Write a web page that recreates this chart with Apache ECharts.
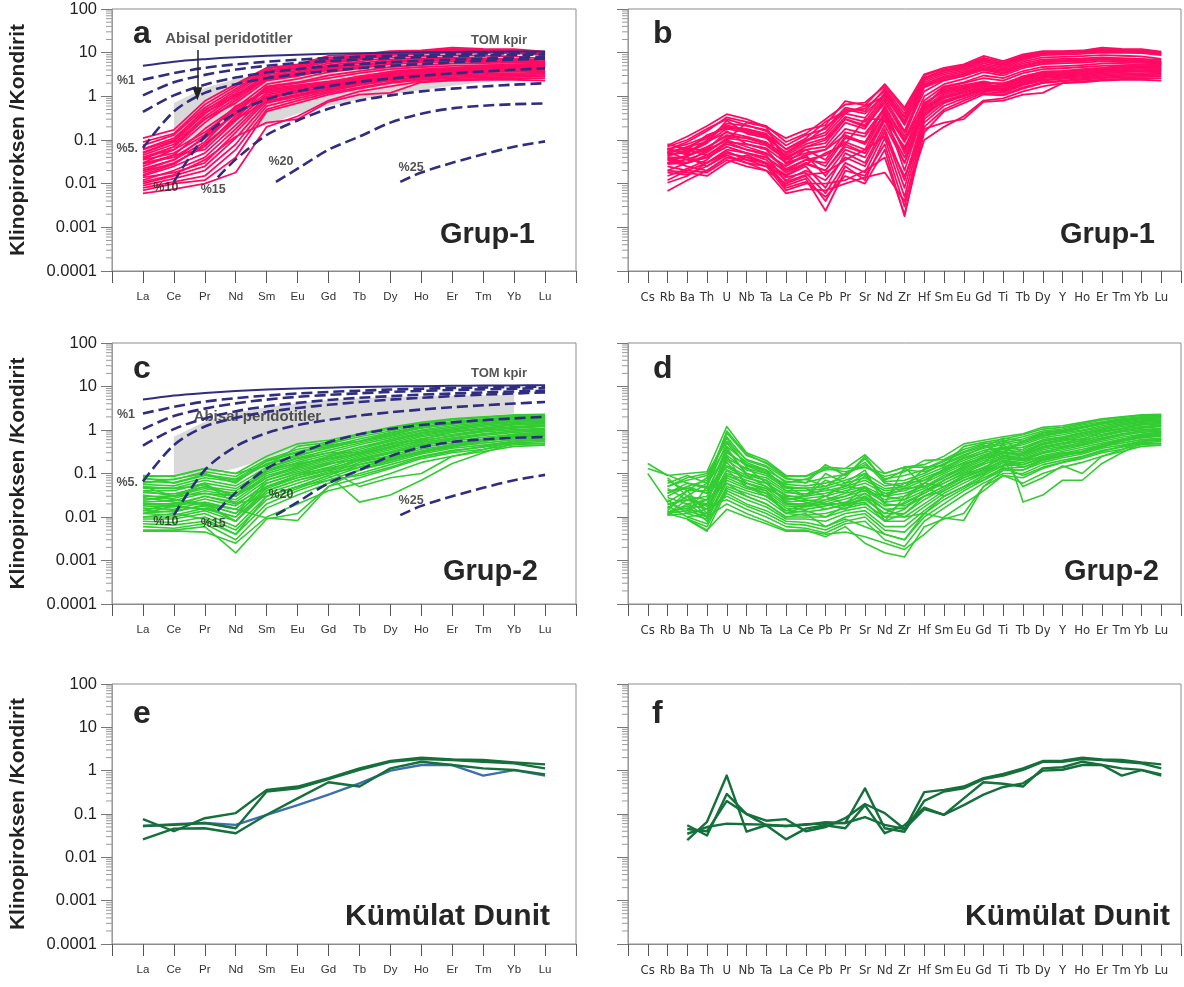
<!DOCTYPE html>
<html>
<head>
<meta charset="utf-8">
<script src="https://cdn.jsdelivr.net/npm/echarts@6/dist/echarts.min.js"></script>
<style>
  html, body { margin: 0; padding: 0; background: #ffffff; }
  #chart { width: 1184px; height: 987px; }
</style>
</head>
<body>
<div id="chart"></div>
<script>
// ---- element orders ----
const reeLabels = ['La', 'Ce', 'Pr', 'Nd', 'Sm', 'Eu', 'Gd', 'Tb', 'Dy', 'Ho', 'Er', 'Tm', 'Yb', 'Lu'];
const spiderLabels = ['Cs', 'Rb', 'Ba', 'Th', 'U', 'Nb', 'Ta', 'La', 'Ce', 'Pb', 'Pr', 'Sr', 'Nd', 'Zr', 'Hf',
  'Sm', 'Eu', 'Gd', 'Ti', 'Tb', 'Dy', 'Y', 'Ho', 'Er', 'Tm', 'Yb', 'Lu'];
const yTickLabels = ['0.0001', '0.001', '0.01', '0.1', '1', '10', '100'];

// ---- clinopyroxene / chondrite, one row per sample, in spiderLabels order ----
const grup1Samples = [
  [null, 0.075, 0.12, 0.21, 0.39, 0.30, 0.20, 0.11, 0.17, 0.22, 0.78, 0.62, 1.9, 0.55, 3.2, 4.5, 5.4, 8.4, 6.4, 9.1, 10.9, 10.8, 11.2, 13.0, 12.2, 12.0, 10.5],
  [null, 0.060, 0.09, 0.16, 0.33, 0.26, 0.21, 0.09, 0.14, 0.30, 0.65, 0.72, 1.7, 0.48, 3.0, 4.3, 5.1, 7.6, 6.0, 8.6, 10.4, 10.5, 10.8, 12.2, 11.6, 11.5, 10.2],
  [null, 0.052, 0.07, 0.11, 0.24, 0.21, 0.17, 0.075, 0.13, 0.18, 0.55, 0.45, 1.5, 0.40, 2.7, 4.0, 4.8, 7.0, 5.6, 8.1, 10.0, 10.1, 10.4, 11.6, 11.1, 11.0, 9.8],
  [null, 0.042, 0.06, 0.13, 0.19, 0.17, 0.13, 0.062, 0.11, 0.26, 0.46, 0.52, 1.35, 0.33, 2.5, 3.8, 4.5, 6.6, 5.2, 7.7, 9.6, 9.7, 10.0, 11.0, 10.6, 10.6, 9.5],
  [null, 0.048, 0.05, 0.085, 0.28, 0.14, 0.11, 0.052, 0.095, 0.13, 0.40, 0.32, 1.2, 0.28, 2.3, 3.5, 4.2, 6.2, 5.0, 7.3, 9.2, 9.4, 9.8, 10.5, 10.3, 10.2, 9.2],
  [null, 0.036, 0.042, 0.065, 0.13, 0.11, 0.085, 0.045, 0.08, 0.11, 0.34, 0.26, 1.05, 0.22, 2.1, 3.2, 3.9, 5.7, 4.6, 6.8, 8.8, 9.0, 9.4, 10.1, 9.9, 9.8, 8.8],
  [null, 0.030, 0.036, 0.052, 0.11, 0.095, 0.075, 0.036, 0.07, 0.085, 0.30, 0.22, 0.9, 0.16, 1.9, 2.9, 3.6, 5.2, 4.3, 6.2, 7.8, 8.0, 8.3, 8.8, 8.5, 8.2, 7.2],
  [null, 0.028, 0.03, 0.045, 0.09, 0.08, 0.065, 0.030, 0.06, 0.07, 0.25, 0.18, 0.8, 0.12, 1.7, 2.6, 3.3, 4.8, 4.0, 5.7, 7.0, 7.2, 7.4, 7.8, 7.4, 7.0, 6.2],
  [null, 0.050, 0.070, 0.090, 0.150, 0.120, 0.090, 0.040, 0.070, 0.100, 0.300, 0.200, 0.70, 0.150, 1.30, 2.30, 2.90, 4.20, 3.50, 5.00, 6.20, 6.40, 6.60, 7.00, 6.80, 6.60, 6.00],
  [null, 0.030, 0.045, 0.060, 0.100, 0.070, 0.050, 0.025, 0.045, 0.060, 0.180, 0.140, 0.55, 0.100, 1.00, 1.90, 2.50, 3.60, 3.00, 4.40, 5.50, 5.70, 5.90, 6.30, 6.20, 6.00, 5.60],
  [null, 0.070, 0.100, 0.180, 0.300, 0.220, 0.160, 0.060, 0.100, 0.150, 0.500, 0.400, 1.10, 0.350, 1.80, 2.70, 3.20, 4.50, 3.80, 5.20, 6.50, 6.70, 7.00, 7.60, 7.40, 7.20, 6.80],
  [null, 0.020, 0.030, 0.040, 0.070, 0.050, 0.040, 0.020, 0.035, 0.030, 0.120, 0.080, 0.40, 0.060, 0.80, 1.70, 2.10, 3.00, 2.60, 3.80, 4.70, 4.90, 5.20, 5.60, 5.80, 5.90, 5.80],
  [null, 0.012, 0.020, 0.030, 0.050, 0.040, 0.030, 0.016, 0.028, 0.020, 0.080, 0.050, 0.30, 0.030, 0.60, 1.60, 2.00, 2.60, 2.30, 3.40, 4.20, 4.40, 4.70, 5.00, 5.20, 5.30, 5.40],
  [null, 0.060, 0.050, 0.100, 0.220, 0.160, 0.120, 0.050, 0.090, 0.200, 0.420, 0.600, 1.00, 0.250, 1.60, 2.40, 3.00, 4.00, 3.30, 4.80, 6.00, 6.20, 6.40, 6.90, 6.60, 6.40, 5.90],
  [null, 0.080, 0.060, 0.045, 0.080, 0.060, 0.050, 0.022, 0.035, 0.045, 0.090, 0.060, 0.45, 0.090, 0.65, 1.40, 1.70, 2.10, 1.90, 2.90, 3.60, 3.70, 4.10, 4.40, 5.00, 5.30, 5.40],
  [null, 0.065, 0.045, 0.070, 0.120, 0.110, 0.080, 0.035, 0.050, 0.060, 0.130, 0.085, 0.60, 0.100, 0.70, 1.30, 1.60, 2.00, 2.00, 2.70, 3.40, 3.60, 3.90, 4.30, 4.80, 5.00, 5.10],
  [null, 0.055, 0.035, 0.030, 0.060, 0.050, 0.040, 0.018, 0.030, 0.020, 0.070, 0.050, 0.35, 0.060, 0.55, 1.20, 1.50, 1.90, 1.70, 2.60, 3.30, 3.50, 3.80, 4.20, 4.50, 4.70, 4.90],
  [null, 0.045, 0.055, 0.090, 0.180, 0.150, 0.120, 0.028, 0.045, 0.015, 0.060, 0.040, 0.28, 0.040, 0.50, 1.10, 1.40, 1.80, 1.60, 2.50, 3.10, 3.30, 3.60, 4.00, 4.30, 4.50, 4.60],
  [null, 0.040, 0.040, 0.025, 0.045, 0.030, 0.025, 0.015, 0.025, 0.008, 0.050, 0.030, 0.22, 0.030, 0.45, 1.00, 1.30, 1.70, 1.50, 2.30, 2.90, 3.10, 3.40, 3.80, 4.10, 4.30, 4.40],
  [null, 0.035, 0.025, 0.020, 0.040, 0.035, 0.030, 0.012, 0.020, 0.012, 0.040, 0.025, 0.18, 0.012, 0.40, 0.90, 1.20, 1.60, 1.40, 2.20, 2.80, 3.00, 3.20, 3.60, 3.90, 4.00, 4.10],
  [null, 0.030, 0.030, 0.040, 0.070, 0.050, 0.035, 0.014, 0.018, 0.006, 0.030, 0.018, 0.15, 0.008, 0.35, 0.80, 1.10, 1.50, 1.40, 2.00, 2.60, 2.80, 3.00, 3.30, 3.60, 3.70, 3.80],
  [null, 0.025, 0.020, 0.018, 0.035, 0.025, 0.020, 0.010, 0.015, 0.004, 0.025, 0.012, 0.11, 0.005, 0.30, 0.70, 1.00, 1.40, 1.30, 1.90, 2.40, 2.60, 2.80, 3.10, 3.30, 3.40, 3.50],
  [null, 0.020, 0.018, 0.015, 0.030, 0.045, 0.030, 0.009, 0.013, 0.0024, 0.020, 0.015, 0.08, 0.003, 0.25, 0.60, 0.90, 1.30, 1.20, 1.80, 2.30, 2.50, 2.70, 2.90, 3.10, 3.20, 3.30],
  [null, 0.018, 0.016, 0.025, 0.050, 0.040, 0.028, 0.008, 0.011, 0.005, 0.015, 0.010, 0.06, 0.0018, 0.20, 0.50, 0.80, 1.20, 1.10, 1.60, 2.10, 2.30, 2.50, 2.70, 2.90, 3.00, 3.10],
  [null, 0.0105, 0.015, 0.030, 0.055, 0.035, 0.025, 0.007, 0.010, 0.010, 0.012, 0.020, 0.04, 0.002, 0.15, 0.45, 0.70, 1.10, 1.05, 1.50, 2.00, 2.20, 2.40, 2.60, 2.70, 2.80, 2.90],
  [null, 0.0068, 0.012, 0.020, 0.040, 0.030, 0.020, 0.006, 0.0075, 0.007, 0.010, 0.014, 0.018, 0.004, 0.10, 0.20, 0.35, 0.80, 0.90, 1.30, 1.70, 2.00, 2.20, 2.40, 2.50, 2.60, 2.60],
  [null, 0.060, 0.080, 0.120, 0.200, 0.180, 0.140, 0.040, 0.060, 0.035, 0.150, 0.120, 0.50, 0.050, 0.60, 1.50, 1.80, 2.20, 1.80, 2.80, 3.70, 3.80, 4.20, 4.50, 4.90, 5.20, 5.30],
  [null, 0.050, 0.065, 0.055, 0.100, 0.250, 0.200, 0.030, 0.040, 0.025, 0.110, 0.090, 0.40, 0.020, 0.50, 0.95, 1.25, 1.65, 1.55, 2.40, 3.00, 3.20, 3.50, 3.90, 4.20, 4.40, 4.50],
  [null, 0.038, 0.030, 0.060, 0.160, 0.080, 0.060, 0.020, 0.028, 0.050, 0.080, 0.300, 0.30, 0.070, 0.40, 0.75, 1.05, 1.45, 1.35, 2.10, 2.70, 2.90, 3.10, 3.40, 3.70, 3.90, 4.00],
  [null, 0.015, 0.022, 0.035, 0.090, 0.060, 0.045, 0.011, 0.016, 0.018, 0.035, 0.060, 0.12, 0.015, 0.18, 0.25, 0.30, 0.75, 0.80, 1.10, 1.20, 2.00, 2.10, 2.30, 2.40, 2.40, 2.30]
];

const grup2Samples = [
  [0.17, 0.090, 0.10, 0.11, 1.20, 0.30, 0.20, 0.090, 0.085, 0.12, 0.13, 0.27, 0.10, 0.14, 0.16, 0.25, 0.48, 0.58, 0.70, 0.82, 1.15, 1.25, 1.50, 1.80, 2.00, 2.25, 2.30],
  [0.13, 0.093, 0.060, 0.050, 0.85, 0.26, 0.18, 0.085, 0.088, 0.14, 0.13, 0.14, 0.10, 0.14, 0.14, 0.15, 0.42, 0.52, 0.62, 0.78, 1.05, 1.15, 1.40, 1.70, 1.95, 2.15, 2.20],
  [null, 0.050, 0.080, 0.100, 0.55, 0.21, 0.15, 0.075, 0.072, 0.13, 0.11, 0.14, 0.085, 0.11, 0.20, 0.21, 0.36, 0.48, 0.55, 0.70, 0.95, 1.05, 1.30, 1.55, 1.80, 2.00, 2.10],
  [null, 0.030, 0.050, 0.070, 0.42, 0.18, 0.12, 0.066, 0.062, 0.08, 0.095, 0.16, 0.075, 0.09, 0.12, 0.19, 0.30, 0.42, 0.50, 0.62, 0.88, 0.98, 1.20, 1.45, 1.70, 1.92, 2.00],
  [0.10, 0.022, 0.040, 0.040, 0.32, 0.15, 0.10, 0.056, 0.052, 0.06, 0.080, 0.25, 0.065, 0.07, 0.10, 0.17, 0.27, 0.38, 0.46, 0.55, 0.80, 0.90, 1.10, 1.35, 1.60, 1.82, 1.90],
  [null, 0.016, 0.030, 0.060, 0.26, 0.12, 0.09, 0.046, 0.046, 0.05, 0.070, 0.10, 0.052, 0.06, 0.09, 0.14, 0.23, 0.34, 0.40, 0.50, 0.72, 0.85, 1.00, 1.25, 1.50, 1.72, 1.80],
  [null, 0.012, 0.025, 0.030, 0.20, 0.10, 0.08, 0.040, 0.040, 0.045, 0.060, 0.08, 0.045, 0.05, 0.08, 0.12, 0.20, 0.30, 0.38, 0.46, 0.66, 0.78, 0.95, 1.15, 1.40, 1.62, 1.70],
  [null, 0.011, 0.020, 0.025, 0.15, 0.09, 0.07, 0.036, 0.034, 0.04, 0.050, 0.07, 0.040, 0.045, 0.07, 0.11, 0.18, 0.27, 0.36, 0.40, 0.60, 0.70, 0.88, 1.05, 1.30, 1.50, 1.60],
  [null, 0.020, 0.015, 0.020, 0.12, 0.08, 0.06, 0.030, 0.030, 0.035, 0.045, 0.06, 0.035, 0.04, 0.06, 0.10, 0.16, 0.24, 0.33, 0.36, 0.55, 0.65, 0.80, 1.00, 1.20, 1.40, 1.50],
  [null, 0.025, 0.012, 0.015, 0.10, 0.07, 0.05, 0.026, 0.027, 0.030, 0.040, 0.05, 0.030, 0.035, 0.05, 0.09, 0.14, 0.22, 0.30, 0.33, 0.50, 0.60, 0.75, 0.95, 1.10, 1.30, 1.40],
  [null, 0.014, 0.040, 0.080, 0.65, 0.14, 0.06, 0.022, 0.024, 0.025, 0.035, 0.045, 0.025, 0.030, 0.045, 0.08, 0.13, 0.20, 0.28, 0.30, 0.46, 0.55, 0.70, 0.88, 1.05, 1.20, 1.30],
  [null, 0.018, 0.010, 0.012, 0.09, 0.06, 0.045, 0.020, 0.020, 0.022, 0.030, 0.04, 0.022, 0.025, 0.040, 0.07, 0.12, 0.18, 0.26, 0.28, 0.42, 0.50, 0.64, 0.80, 0.98, 1.10, 1.20],
  [null, 0.013, 0.018, 0.008, 0.08, 0.05, 0.040, 0.018, 0.017, 0.020, 0.026, 0.035, 0.018, 0.020, 0.035, 0.06, 0.10, 0.16, 0.24, 0.26, 0.38, 0.46, 0.58, 0.72, 0.90, 1.02, 1.10],
  [null, 0.012, 0.014, 0.010, 0.07, 0.045, 0.035, 0.016, 0.015, 0.018, 0.022, 0.030, 0.015, 0.016, 0.030, 0.05, 0.09, 0.14, 0.22, 0.24, 0.35, 0.42, 0.52, 0.66, 0.82, 0.95, 1.00],
  [null, null, 0.012, 0.009, 0.06, 0.040, 0.030, 0.014, 0.013, 0.015, 0.019, 0.025, 0.012, 0.012, 0.025, 0.045, 0.08, 0.12, 0.20, 0.22, 0.32, 0.38, 0.48, 0.60, 0.75, 0.88, 0.95],
  [null, null, 0.010, 0.007, 0.05, 0.035, 0.025, 0.012, 0.011, 0.012, 0.016, 0.020, 0.010, 0.010, 0.020, 0.040, 0.07, 0.11, 0.18, 0.20, 0.29, 0.35, 0.44, 0.55, 0.68, 0.80, 0.88],
  [null, null, 0.009, 0.006, 0.045, 0.030, 0.020, 0.010, 0.010, 0.010, 0.014, 0.017, 0.008, 0.008, 0.017, 0.035, 0.06, 0.10, 0.16, 0.18, 0.26, 0.32, 0.40, 0.50, 0.62, 0.72, 0.80],
  [null, null, 0.0087, 0.0047, 0.04, 0.025, 0.017, 0.009, 0.009, 0.008, 0.012, 0.014, 0.006, 0.006, 0.014, 0.030, 0.05, 0.09, 0.15, 0.16, 0.24, 0.29, 0.36, 0.46, 0.56, 0.66, 0.72],
  [null, null, 0.015, 0.012, 0.035, 0.020, 0.014, 0.008, 0.0075, 0.006, 0.010, 0.012, 0.005, 0.0045, 0.012, 0.025, 0.045, 0.08, 0.13, 0.14, 0.21, 0.26, 0.32, 0.42, 0.50, 0.60, 0.65],
  [null, null, 0.020, 0.015, 0.030, 0.018, 0.012, 0.007, 0.0065, 0.0050, 0.008, 0.010, 0.004, 0.003, 0.010, 0.020, 0.040, 0.07, 0.12, 0.12, 0.18, 0.23, 0.28, 0.38, 0.45, 0.55, 0.60],
  [null, null, 0.025, 0.018, 0.025, 0.015, 0.010, 0.006, 0.0055, 0.0043, 0.007, 0.008, 0.003, 0.0021, 0.008, 0.016, 0.032, 0.06, 0.10, 0.10, 0.16, 0.20, 0.25, 0.34, 0.40, 0.50, 0.55],
  [null, null, 0.030, 0.010, 0.020, 0.012, 0.008, 0.005, 0.005, 0.0035, 0.006, 0.0025, 0.0015, 0.0012, 0.006, 0.009, 0.012, 0.05, 0.09, 0.08, 0.13, 0.18, 0.22, 0.30, 0.36, 0.46, 0.50],
  [null, 0.011, 0.012, 0.050, 0.50, 0.16, 0.11, 0.050, 0.030, 0.10, 0.06, 0.12, 0.020, 0.14, 0.05, 0.030, 0.050, 0.09, 0.55, 0.022, 0.032, 0.07, 0.07, 0.17, 0.30, 0.50, 0.48],
  [null, 0.045, 0.025, 0.020, 0.35, 0.10, 0.07, 0.020, 0.018, 0.025, 0.030, 0.05, 0.020, 0.018, 0.030, 0.05, 0.08, 0.12, 0.20, 0.05, 0.08, 0.15, 0.10, 0.25, 0.35, 0.55, 0.60],
  [null, 0.070, 0.040, 0.012, 0.25, 0.05, 0.035, 0.012, 0.018, 0.020, 0.015, 0.030, 0.010, 0.015, 0.040, 0.060, 0.10, 0.13, 0.25, 0.20, 0.24, 0.30, 0.30, 0.45, 0.60, 0.75, 0.85],
  [null, 0.080, 0.030, 0.025, 0.18, 0.06, 0.045, 0.028, 0.022, 0.015, 0.020, 0.035, 0.015, 0.010, 0.012, 0.0095, 0.0083, 0.05, 0.12, 0.12, 0.20, 0.25, 0.32, 0.40, 0.55, 0.68, 0.75],
  [null, 0.012, 0.009, 0.005, 0.015, 0.010, 0.007, 0.0047, 0.0048, 0.004, 0.0045, 0.0035, 0.0025, 0.0018, 0.004, 0.010, 0.020, 0.040, 0.09, 0.06, 0.10, 0.14, 0.18, 0.25, 0.32, 0.42, 0.45],
  [null, 0.050, 0.070, 0.090, 0.70, 0.20, 0.14, 0.060, 0.075, 0.05, 0.10, 0.18, 0.06, 0.05, 0.13, 0.20, 0.32, 0.45, 0.30, 0.55, 0.85, 0.95, 1.15, 1.45, 1.70, 1.95, 2.05],
  [null, 0.040, 0.045, 0.035, 0.22, 0.13, 0.10, 0.050, 0.045, 0.03, 0.055, 0.04, 0.03, 0.025, 0.06, 0.13, 0.22, 0.30, 0.60, 0.30, 0.48, 0.60, 0.60, 0.90, 1.10, 1.35, 1.40],
  [null, 0.035, 0.060, 0.045, 0.14, 0.08, 0.06, 0.032, 0.025, 0.02, 0.020, 0.027, 0.012, 0.022, 0.035, 0.07, 0.11, 0.17, 0.45, 0.21, 0.30, 0.40, 0.46, 0.62, 0.80, 0.95, 1.05],
  [null, 0.060, 0.090, 0.060, 0.95, 0.28, 0.17, 0.080, 0.060, 0.16, 0.09, 0.22, 0.07, 0.12, 0.11, 0.16, 0.25, 0.40, 0.65, 0.55, 0.75, 0.90, 1.15, 1.40, 1.70, 2.00, 2.10],
  [null, 0.028, 0.020, 0.010, 0.30, 0.16, 0.12, 0.040, 0.030, 0.07, 0.05, 0.10, 0.030, 0.06, 0.07, 0.12, 0.17, 0.22, 0.30, 0.28, 0.40, 0.50, 0.55, 0.75, 0.95, 1.15, 1.25],
  [null, 0.016, 0.030, 0.015, 0.12, 0.05, 0.03, 0.014, 0.020, 0.030, 0.020, 0.050, 0.008, 0.030, 0.060, 0.05, 0.09, 0.12, 0.20, 0.16, 0.22, 0.28, 0.33, 0.45, 0.60, 0.80, 0.90],
  [null, 0.013, 0.016, 0.025, 0.060, 0.030, 0.020, 0.010, 0.012, 0.006, 0.009, 0.006, 0.004, 0.003, 0.012, 0.030, 0.05, 0.07, 0.14, 0.09, 0.14, 0.18, 0.24, 0.32, 0.42, 0.55, 0.60],
  [null, 0.035, 0.050, 0.035, 0.40, 0.09, 0.05, 0.024, 0.030, 0.045, 0.035, 0.09, 0.030, 0.045, 0.05, 0.08, 0.15, 0.25, 0.38, 0.40, 0.55, 0.68, 0.85, 1.05, 1.30, 1.55, 1.65],
  [null, 0.020, 0.025, 0.018, 0.09, 0.06, 0.040, 0.012, 0.014, 0.010, 0.018, 0.022, 0.008, 0.012, 0.030, 0.040, 0.07, 0.10, 0.18, 0.14, 0.20, 0.26, 0.30, 0.42, 0.55, 0.70, 0.78]
];

const kumulatSamples = [
  [null, null, 0.035, 0.050, 0.060, 0.058, 0.057, 0.053, 0.058, 0.060, 0.062, 0.085, 0.056, 0.045, 0.13, 0.096, 0.16, 0.28, 0.42, 0.51, 1.00, 1.05, 1.35, 1.35, 0.77, 1.03, 0.77],
  [null, null, 0.055, 0.032, 0.29, 0.10, 0.070, 0.076, 0.040, 0.050, 0.080, 0.17, 0.105, 0.045, 0.32, 0.36, 0.43, 0.67, 0.84, 1.13, 1.67, 1.70, 1.99, 1.82, 1.76, 1.55, 1.40],
  [null, null, 0.025, 0.066, 0.77, 0.039, 0.055, 0.053, 0.056, 0.065, 0.062, 0.39, 0.047, 0.039, 0.20, 0.33, 0.39, 0.64, 0.77, 1.04, 1.60, 1.60, 1.85, 1.76, 1.61, 1.47, 1.13],
  [null, null, 0.045, 0.040, 0.20, 0.10, 0.055, 0.026, 0.046, 0.055, 0.047, 0.16, 0.036, 0.055, 0.14, 0.096, 0.23, 0.54, 0.50, 0.43, 1.13, 1.20, 1.61, 1.35, 1.13, 1.04, 0.82]
];

// ---- partial-melting model curves (La..Lu), [element position, value] ----
const tomKpir = [[1, 5.0], [2, 6.2], [3, 7.1], [4, 7.9], [5, 8.5], [6, 9.0], [7, 9.4], [8, 9.7], [9, 10.0], [10, 10.2], [11, 10.4], [12, 10.5], [13, 10.6], [14, 10.7]];
const melt1 = [[1, 2.4], [2, 3.4], [3, 4.5], [4, 5.4], [5, 6.2], [6, 6.9], [7, 7.5], [8, 8.0], [9, 8.5], [10, 8.9], [11, 9.2], [12, 9.5], [13, 9.7], [14, 9.9]];
const melt2 = [[1, 1.05], [2, 2.1], [3, 3.1], [4, 4.1], [5, 5.0], [6, 5.8], [7, 6.4], [8, 7.0], [9, 7.5], [10, 7.9], [11, 8.3], [12, 8.6], [13, 8.9], [14, 9.1]];
const melt3 = [[1, 0.44], [2, 1.05], [3, 1.85], [4, 2.7], [5, 3.5], [6, 4.2], [7, 4.9], [8, 5.5], [9, 6.0], [10, 6.5], [11, 6.9], [12, 7.3], [13, 7.7], [14, 8.0]];
const melt5 = [[1, 0.066], [2, 0.45], [3, 1.2], [4, 1.9], [5, 2.6], [6, 3.2], [7, 3.8], [8, 4.4], [9, 5.0], [10, 5.5], [11, 6.0], [12, 6.5], [13, 6.9], [14, 7.3]];
const melt10 = [[2, 0.011], [3, 0.12], [4, 0.42], [5, 0.85], [6, 1.3], [7, 1.7], [8, 2.15], [9, 2.55], [10, 2.95], [11, 3.35], [12, 3.7], [13, 4.05], [14, 4.4]];
const melt15 = [[3.42, 0.014], [4, 0.036], [5, 0.13], [6, 0.28], [7, 0.52], [8, 0.8], [9, 1.05], [10, 1.3], [11, 1.5], [12, 1.68], [13, 1.85], [14, 2.0]];
const melt20 = [[5.3, 0.011], [6, 0.022], [7, 0.06], [8, 0.12], [9, 0.25], [10, 0.4], [11, 0.53], [12, 0.61], [13, 0.66], [14, 0.69]];
const melt25 = [[9.32, 0.011], [10, 0.018], [11, 0.03], [12, 0.047], [13, 0.07], [14, 0.093]];
const meltLabels = [['%1', 0.45, 2.3], ['%5.', 0.49, 0.063], ['%10', 1.74, 0.008], ['%15', 3.27, 0.0072], ['%20', 5.46, 0.0325], ['%25', 9.67, 0.024]];

// ---- abyssal peridotite clinopyroxene field ----
const abyssalTop = [[2, 0.7], [3, 1.55], [4, 2.5], [5, 3.4], [6, 4.2], [7, 4.9], [8, 5.4], [9, 5.8], [10, 6.0], [11, 6.2], [12, 6.3], [13, 6.4]];
const abyssalBottom = [[2, 0.09], [3, 0.095], [4, 0.13], [5, 0.22], [6, 0.4], [7, 0.6], [8, 0.85], [9, 1.1], [10, 1.4], [11, 1.75], [12, 2.1], [13, 2.4]];

// ---- colours ----
const PINK = '#ff0a64';
const LIME = '#33cc33';
const DARKGREEN = '#15703b';
const STEEL = '#3d6fae';
const NAVY = '#302d80';
const INK = '#262626';
const FONT = "'Liberation Sans', Arial, sans-serif";
const NARROW = "'Liberation Sans Narrow', 'DejaVu Sans Condensed', 'Liberation Sans', Arial, sans-serif";

const reeIndex = reeLabels.map(el => spiderLabels.indexOf(el));
const reeOf = s => reeIndex.map((k, i) => [i + 1, s[k]]);
const spiderOf = s => s.map((v, i) => [i + 1, v]).filter(p => p[1] != null);

// layout of the six panels
const panels = [
  { left: 112, top: 9, width: 464, height: 262, spider: false },
  { left: 628, top: 9, width: 557, height: 262, spider: true },
  { left: 112, top: 343, width: 464, height: 261, spider: false },
  { left: 628, top: 343, width: 557, height: 261, spider: true },
  { left: 112, top: 684, width: 464, height: 260, spider: false },
  { left: 628, top: 684, width: 557, height: 260, spider: true }
];

const grid = panels.map(p => ({
  left: p.left, top: p.top, width: p.width, height: p.height,
  show: true, borderColor: '#8c8c8c', borderWidth: 1, backgroundColor: 'transparent'
}));

const xAxis = panels.map((p, i) => {
  const labels = p.spider ? spiderLabels : reeLabels;
  return {
    type: 'value', gridIndex: i, min: 0, max: labels.length + 1, interval: 1,
    axisLine: { show: true, onZero: false, lineStyle: { color: '#8c8c8c', width: 1 } },
    axisTick: { show: true, length: 12, lineStyle: { color: '#555', width: 1 } },
    splitLine: { show: false },
    axisLabel: {
      show: true, margin: 20, color: '#333',
      fontFamily: p.spider ? NARROW : FONT, fontSize: p.spider ? 13 : 11.5,
      formatter: v => labels[v - 1] || '',
      showMinLabel: true, showMaxLabel: true, hideOverlap: false
    }
  };
});

const yAxis = panels.map((p, i) => ({
  type: 'log', logBase: 10, gridIndex: i, min: 0.0001, max: 100,
  axisLine: { show: true, lineStyle: { color: '#9a9a9a', width: 1 } },
  axisTick: { show: true, length: 11, lineStyle: { color: '#777', width: 1 } },
  splitLine: { show: false },
  axisLabel: {
    show: !p.spider, margin: 15, color: '#222', fontFamily: FONT, fontSize: 16.5,
    formatter: v => yTickLabels[Math.round(Math.log10(v)) + 4]
  },
  name: p.spider ? '' : 'Klinopiroksen /Kondirit',
  nameLocation: 'middle', nameGap: 83, nameRotate: 90,
  nameTextStyle: { fontFamily: FONT, fontSize: 21, fontWeight: 'bold', color: '#222' }
}));

// log-spaced minor ticks on every y axis
const minorTickValues = [];
for (let k = -4; k < 2; k++) for (let m = 2; m <= 9; m++) minorTickValues.push(m * Math.pow(10, k));

const series = [];

function lineSeries(gi, data, color, width, z, dashed, smooth) {
  series.push({
    type: 'line', xAxisIndex: gi, yAxisIndex: gi, data: data,
    showSymbol: false, symbol: 'none', silent: true, z: z, smooth: smooth || false,
    lineStyle: { color: color, width: width, type: dashed ? [11, 5] : 'solid', cap: 'butt', join: 'round' },
    emphasis: { disabled: true }, animation: false
  });
}

panels.forEach((p, gi) => {
  series.push({
    type: 'custom', xAxisIndex: gi, yAxisIndex: gi, clip: false, silent: true, z: 6,
    data: minorTickValues.map(v => [0, v]),
    renderItem: (params, api) => {
      const c = api.coord([api.value(0), api.value(1)]);
      return { type: 'line', shape: { x1: c[0] - 6, y1: c[1], x2: c[0], y2: c[1] }, style: { stroke: '#9a9a9a', lineWidth: 1 } };
    }
  });
});

// REE panels with melting models (a, c)
[0, 2].forEach(gi => {
  // abyssal peridotite field
  series.push({
    type: 'custom', xAxisIndex: gi, yAxisIndex: gi, silent: true, z: 1,
    data: [[0, 0]],
    renderItem: (params, api) => {
      const pts = abyssalTop.concat(abyssalBottom.slice().reverse()).map(q => api.coord(q));
      return { type: 'polygon', shape: { points: pts }, style: { fill: '#d9d9d9', stroke: null } };
    }
  });
  const samples = gi === 0 ? grup1Samples : grup2Samples;
  const color = gi === 0 ? PINK : LIME;
  samples.forEach(s => lineSeries(gi, reeOf(s), color, gi === 0 ? 1.8 : 1.6, 2, false));
  lineSeries(gi, tomKpir, NAVY, 2, 3, false, 0.3);
  [melt1, melt2, melt3, melt5, melt10, melt15, melt20, melt25].forEach(m => lineSeries(gi, m, NAVY, 2.6, 3, true, 0.3));

  // model annotations
  series.push({
    type: 'scatter', xAxisIndex: gi, yAxisIndex: gi, silent: true, z: 4,
    symbolSize: 1, itemStyle: { color: 'transparent' },
    data: meltLabels.map(l => ({ value: [l[1], l[2]], name: l[0] })),
    label: { show: true, position: 'inside', formatter: q => q.name, fontFamily: FONT, fontSize: 12.5, fontWeight: 'bold', color: '#262626' }
  });
  series.push({
    type: 'scatter', xAxisIndex: gi, yAxisIndex: gi, silent: true, z: gi === 0 ? 4 : 2,
    symbolSize: 1, itemStyle: { color: 'transparent' },
    data: [
      { value: [12.51, 19.5], name: 'TOM kpir', label: { fontSize: 13 } },
      { value: gi === 0 ? [3.78, 20.6] : [4.70, 1.99], name: 'Abisal peridotitler', label: { fontSize: 15 } }
    ],
    label: { show: true, position: 'inside', formatter: q => q.name, fontFamily: FONT, fontWeight: 'bold', color: '#2a2a2a' }
  });
});

// arrow pointing at the abyssal field in panel a
series.push({
  type: 'line', xAxisIndex: 0, yAxisIndex: 0, data: [], silent: true, z: 4,
  markLine: {
    silent: true, animation: false, symbol: ['none', 'triangle'], symbolSize: [10, 13], symbolRotate: 180,
    label: { show: false },
    lineStyle: { color: '#222', width: 1.5, type: 'solid' },
    data: [[{ coord: [2.76, 11.5] }, { coord: [2.76, 1.15] }]]
  }
});

// spider diagrams (b, d)
grup1Samples.forEach(s => lineSeries(1, spiderOf(s), PINK, 1.8, 2, false));
grup2Samples.forEach(s => lineSeries(3, spiderOf(s), LIME, 1.6, 2, false));

// cumulate dunite (e, f)
kumulatSamples.forEach((s, i) => lineSeries(4, reeOf(s), i === 0 ? STEEL : DARKGREEN, 2.4, i === 0 ? 2 : 3, false));
kumulatSamples.forEach(s => lineSeries(5, spiderOf(s), DARKGREEN, 2.4, 2, false));

// panel letters and group names
const panelText = [
  ['a', 133, 34, 'left', 32], ['b', 653, 34, 'left', 32],
  ['c', 133, 369, 'left', 32], ['d', 653, 369, 'left', 32],
  ['e', 133, 714, 'left', 32], ['f', 652, 714, 'left', 32],
  ['Grup-1', 535, 235, 'right', 29], ['Grup-1', 1155, 235, 'right', 29],
  ['Grup-2', 538, 572, 'right', 29], ['Grup-2', 1159, 572, 'right', 29],
  ['Kümülat Dunit', 550, 917, 'right', 30], ['Kümülat Dunit', 1170, 917, 'right', 30]
];
const graphic = panelText.map(t => ({
  type: 'text', x: t[1], y: t[2], z: 10, silent: true,
  style: { text: t[0], font: `bold ${t[4]}px ${FONT}`, fill: INK, align: t[3], verticalAlign: 'middle' }
}));

const chart = echarts.init(document.getElementById('chart'), null, { renderer: 'canvas' });
chart.setOption({
  animation: false,
  backgroundColor: '#ffffff',
  grid: grid, xAxis: xAxis, yAxis: yAxis, series: series, graphic: graphic
});
</script>
</body>
</html>
